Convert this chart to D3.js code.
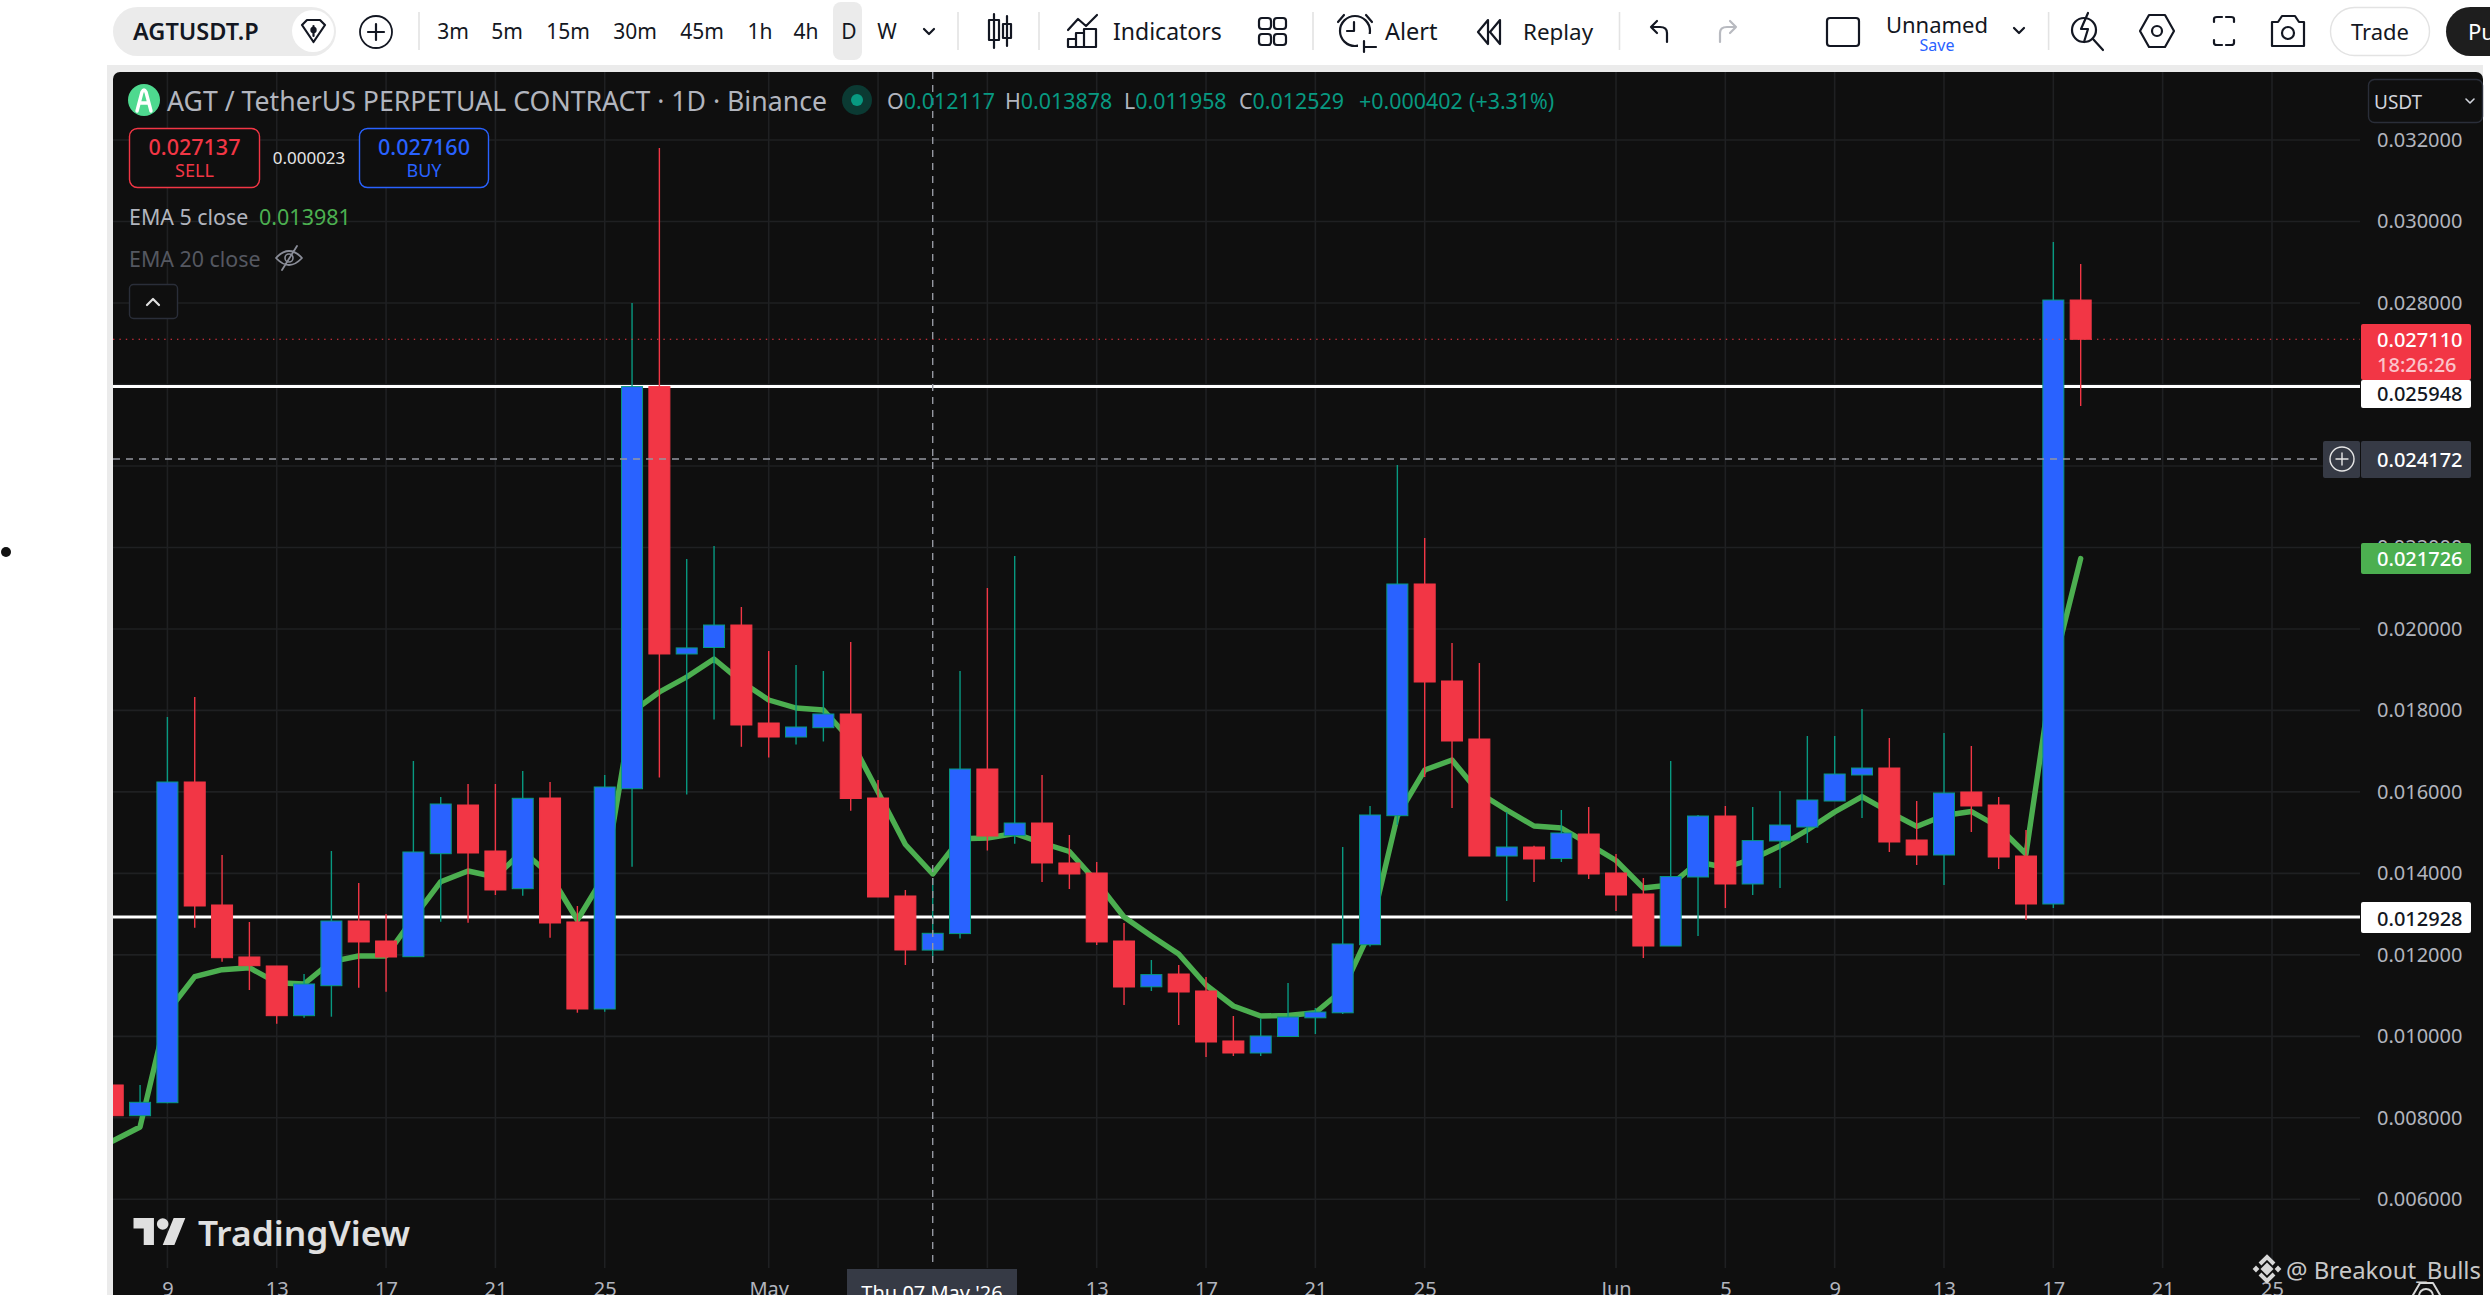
<!DOCTYPE html>
<html>
<head>
  <meta charset="utf-8">
  <script src="https://d3js.org/d3.v7.min.js"></script>
  <style>
  html, body { margin:0; padding:0; background:#fff; overflow:hidden; }
  svg { display:block; font-family:"Noto Sans", sans-serif; }
  .y.axis text, .x.axis text { fill:#b2b5be; font-size:20px; font-family:"Noto Sans", sans-serif; }
  .y.axis path, .x.axis path { display:none; }
  .grid line { stroke:#1f2022; stroke-width:1.6; }
  .icon { fill:none; stroke:#131722; stroke-width:2.2; stroke-linecap:round; stroke-linejoin:round; }
  </style>
</head>
<body>
<script>

  // daily candles, 7 Apr to 18 Jun
  var firstDay = "2026-04-07", lastDay = "2026-06-18";

  var opens = [
    0.008806, 0.008052, 0.008371, 0.016243, 0.013224, 0.011948, 0.011727, 0.010507, 0.011243, 0.012831, 0.012340, 0.011955,
    0.014483, 0.015678, 0.014549, 0.013624, 0.015850, 0.012807, 0.010671, 0.016078, 0.025948, 0.019385, 0.019544, 0.020096,
    0.017691, 0.017347, 0.017576, 0.017912, 0.015850, 0.013445, 0.012117, 0.012522, 0.016562, 0.014927, 0.015236, 0.014255,
    0.014009, 0.012340, 0.011216, 0.011530, 0.011113, 0.009886, 0.009591, 0.009996, 0.010455, 0.010578, 0.012249, 0.015416,
    0.021103, 0.018722, 0.017298, 0.014426, 0.014647, 0.014363, 0.014966, 0.014009, 0.013494, 0.012217, 0.013911, 0.015408,
    0.013739, 0.014795, 0.015138, 0.015776, 0.016415, 0.016586, 0.014819, 0.014451, 0.015997, 0.015678, 0.014426, 0.013248,
    0.028073
  ];
  var highs = [
    0.008806, 0.008806, 0.017838, 0.018329, 0.014451, 0.012807, 0.011727, 0.011530, 0.014549, 0.013764, 0.013003, 0.016758,
    0.015875, 0.016194, 0.016194, 0.016513, 0.016243, 0.013199, 0.016415, 0.028000, 0.031804, 0.021716, 0.022035, 0.020538,
    0.019458, 0.019115, 0.018967, 0.019679, 0.016292, 0.013592, 0.013878, 0.018967, 0.021005, 0.021792, 0.016415, 0.014942,
    0.014279, 0.012782, 0.011874, 0.011751, 0.011457, 0.010499, 0.010436, 0.011309, 0.010696, 0.014647, 0.015654, 0.024024,
    0.022232, 0.019655, 0.019164, 0.015506, 0.014681, 0.015556, 0.015629, 0.014476, 0.013886, 0.016758, 0.015433, 0.015654,
    0.015629, 0.016022, 0.017372, 0.017372, 0.018035, 0.017323, 0.015776, 0.017446, 0.017126, 0.015875, 0.015065, 0.029497,
    0.028957
  ];
  var lows = [
    0.008052, 0.008052, 0.008356, 0.012667, 0.011832, 0.011137, 0.010310, 0.010458, 0.010482, 0.011194, 0.011096, 0.011955,
    0.012814, 0.012789, 0.013469, 0.013452, 0.012421, 0.010580, 0.010605, 0.014164, 0.016353, 0.015933, 0.017774, 0.017107,
    0.016842, 0.017163, 0.017237, 0.015536, 0.013420, 0.011751, 0.011958, 0.012399, 0.014559, 0.014728, 0.013788, 0.013616,
    0.012242, 0.010769, 0.011113, 0.010278, 0.009493, 0.009517, 0.009517, 0.009996, 0.010057, 0.010548, 0.012203, 0.015187,
    0.016366, 0.015605, 0.014426, 0.013322, 0.013788, 0.014279, 0.013862, 0.013077, 0.011923, 0.012217, 0.012463, 0.013150,
    0.013469, 0.013641, 0.014746, 0.015776, 0.015359, 0.014525, 0.014206, 0.013715, 0.015016, 0.014107, 0.012856, 0.013150,
    0.025472
  ];
  var closes = [
    0.008052, 0.008381, 0.016243, 0.013199, 0.011930, 0.011734, 0.010507, 0.011285, 0.012831, 0.012316, 0.011947, 0.014525,
    0.015703, 0.014500, 0.013592, 0.015843, 0.012782, 0.010671, 0.016120, 0.025948, 0.019385, 0.019534, 0.020096, 0.017642,
    0.017347, 0.017593, 0.017912, 0.015838, 0.013420, 0.012119, 0.012529, 0.016562, 0.014917, 0.015236, 0.014255, 0.013985,
    0.012316, 0.011211, 0.011515, 0.011088, 0.009861, 0.009591, 0.010008, 0.010475, 0.010597, 0.012267, 0.015433, 0.021103,
    0.018697, 0.017249, 0.014426, 0.014647, 0.014353, 0.014991, 0.013985, 0.013469, 0.012217, 0.013921, 0.015408, 0.013739,
    0.014804, 0.015187, 0.015801, 0.016439, 0.016586, 0.014770, 0.014451, 0.015973, 0.015654, 0.014402, 0.013248, 0.028073,
    0.027110
  ];
  var ema5 = [
    0.007431, 0.007775, 0.010597, 0.011464, 0.011635, 0.011685, 0.011316, 0.011285, 0.011832, 0.011972, 0.011972, 0.012905,
    0.013796, 0.014058, 0.013911, 0.014549, 0.013960, 0.012856, 0.013960, 0.017961, 0.018452, 0.018820, 0.019262, 0.018705,
    0.018255, 0.018059, 0.018010, 0.017274, 0.015997, 0.014709, 0.013985, 0.014851, 0.014868, 0.014979, 0.014746, 0.014537,
    0.013788, 0.012929, 0.012463, 0.012021, 0.011260, 0.010745, 0.010499, 0.010512, 0.010578, 0.011137, 0.012569, 0.015408,
    0.016537, 0.016783, 0.015973, 0.015556, 0.015163, 0.015114, 0.014721, 0.014316, 0.013641, 0.013715, 0.014279, 0.014144,
    0.014353, 0.014672, 0.015065, 0.015506, 0.015884, 0.015506, 0.015153, 0.015421, 0.015519, 0.015138, 0.014476, 0.019041,
    0.021726
  ];

  var yTicks = [0.006, 0.008, 0.010, 0.012, 0.014, 0.016, 0.018, 0.020, 0.022, 0.024, 0.026, 0.028, 0.030, 0.032];
  var xTickDays = ["2026-04-09","2026-04-13","2026-04-17","2026-04-21","2026-04-25","2026-05-01","2026-05-05","2026-05-09",
    "2026-05-13","2026-05-17","2026-05-21","2026-05-25","2026-06-01","2026-06-05","2026-06-09","2026-06-13","2026-06-17",
    "2026-06-21","2026-06-25"];
  var xTickLabels = ["9","13","17","21","25","May","5","9","13","17","21","25","Jun","5","9","13","17","21","25"];

  var supportLevels = [0.025948, 0.012928];
  var lastPrice = 0.027110, crossPrice = 0.024172, crossDay = "2026-05-07";

  var timeframes = ["3m","5m","15m","30m","45m","1h","4h","D","W"];
  var timeframeX = [453, 507, 568, 635, 702, 760, 806, 849, 887];

  var panel = {left:113, top:72, right:2360, axisTop:1268};

  var svg = d3.select("body").append("svg")
    .attr("width", 2490)
    .attr("height", 1295);

  var day = d3.utcParse("%Y-%m-%d");
  var days = d3.utcDay.range(day(firstDay), d3.utcDay.offset(day(lastDay), 1));

  var x = d3.scaleUtc().domain([day("2026-04-09"), day("2026-06-25")]).range([167.4, 2272]);
  var y = d3.scaleLinear().domain([0.006, 0.028]).range([1199.3, 303]);
  var bodyWidth = 21;

  function label(px, py, str, size, color, anchor, weight) {
    return svg.append("text")
      .attr("x", px).attr("y", py)
      .attr("dominant-baseline", "central")
      .attr("text-anchor", anchor || "start")
      .attr("font-size", size)
      .attr("font-weight", weight || 400)
      .attr("fill", color)
      .text(str);
  }
  function icon(d, color) {
    return svg.append("path").attr("class", "icon").attr("d", d).style("stroke", color || null);
  }
  function vrule(px, y0, y1) {
    svg.append("line").attr("x1", px).attr("x2", px).attr("y1", y0).attr("y2", y1)
      .attr("stroke", "#e3e3e3").attr("stroke-width", 1.6);
  }

  // page + panel
  svg.append("rect").attr("x", 107).attr("y", 65).attr("width", 2383).attr("height", 1230).attr("fill", "#ebebeb");
  svg.append("rect").attr("x", 2483).attr("y", 65).attr("width", 7).attr("height", 1230).attr("fill", "#fff");
  svg.append("rect").attr("x", panel.left).attr("y", panel.top).attr("width", 2370).attr("height", 1240)
    .attr("rx", 7).attr("fill", "#0f0f0f");
  svg.append("circle").attr("cx", 6).attr("cy", 552).attr("r", 5).attr("fill", "#111");

  svg.append("clipPath").attr("id", "plot").append("rect")
    .attr("x", panel.left).attr("y", panel.top)
    .attr("width", panel.right - panel.left).attr("height", panel.axisTop - panel.top);

  // grid
  var grid = svg.append("g").attr("class", "grid");
  grid.selectAll(".h").data(yTicks).enter().append("line")
    .attr("x1", panel.left).attr("x2", panel.right)
    .attr("y1", d => y(d)).attr("y2", d => y(d));
  grid.selectAll(".v").data(xTickDays).enter().append("line")
    .attr("x1", d => x(day(d))).attr("x2", d => x(day(d)))
    .attr("y1", panel.top).attr("y2", panel.axisTop);

  // axes
  svg.append("g").attr("class", "y axis")
    .attr("transform", "translate(2364,0)")
    .call(d3.axisRight(y).tickValues(yTicks).tickFormat(d3.format(".6f")).tickSize(0).tickPadding(13));
  svg.append("g").attr("class", "x axis")
    .attr("transform", "translate(0,1282)")
    .call(d3.axisBottom(x).tickValues(xTickDays.map(day)).tickFormat((d, i) => xTickLabels[i]).tickSize(0).tickPadding(0));

  var plot = svg.append("g").attr("clip-path", "url(#plot)");

  // the two white levels
  plot.selectAll(".level").data(supportLevels).enter().append("line")
    .attr("x1", panel.left).attr("x2", panel.right)
    .attr("y1", d => y(d)).attr("y2", d => y(d))
    .attr("stroke", "#fff").attr("stroke-width", 3);

  // EMA under the candles
  var emaLine = d3.line().x((d, i) => x(days[i])).y(d => y(d));
  plot.append("path").datum(ema5)
    .attr("fill", "none").attr("stroke", "#4caf50").attr("stroke-width", 5.4)
    .attr("stroke-linejoin", "round").attr("stroke-linecap", "round")
    .attr("d", emaLine);

  var isUp = i => closes[i] >= opens[i];

  plot.selectAll(".wick").data(days).enter().append("line")
    .attr("x1", d => x(d)).attr("x2", d => x(d))
    .attr("y1", (d, i) => y(highs[i])).attr("y2", (d, i) => y(lows[i]))
    .attr("stroke", (d, i) => isUp(i) ? "#089981" : "#f23645").attr("stroke-width", 1.4);

  plot.selectAll(".body").data(days).enter().append("rect")
    .attr("x", d => x(d) - bodyWidth / 2)
    .attr("width", bodyWidth)
    .attr("y", (d, i) => y(Math.max(opens[i], closes[i])))
    .attr("height", (d, i) => Math.abs(y(opens[i]) - y(closes[i])))
    .attr("fill", (d, i) => isUp(i) ? "#2962ff" : "#f23645")
    .attr("stroke", (d, i) => isUp(i) ? "#089981" : "#f23645").attr("stroke-width", 1);

  // last price + crosshair
  plot.append("line").attr("x1", panel.left).attr("x2", panel.right)
    .attr("y1", y(lastPrice)).attr("y2", y(lastPrice))
    .attr("stroke", "#f23645").attr("stroke-width", 1.2).attr("stroke-dasharray", "1.4 5");
  plot.append("line").attr("x1", panel.left).attr("x2", 2323)
    .attr("y1", y(crossPrice)).attr("y2", y(crossPrice))
    .attr("stroke", "#9598a1").attr("stroke-width", 1.4).attr("stroke-dasharray", "7 6");
  plot.append("line").attr("x1", x(day(crossDay))).attr("x2", x(day(crossDay)))
    .attr("y1", panel.top).attr("y2", panel.axisTop)
    .attr("stroke", "#9598a1").attr("stroke-width", 1.4).attr("stroke-dasharray", "7 6");

  // price tags
  function tag(y0, y1, fill) {
    svg.append("rect").attr("x", 2361).attr("y", y0).attr("width", 110).attr("height", y1 - y0).attr("rx", 2).attr("fill", fill);
  }
  tag(324, 380, "#f23645");
  label(2377, 339, "0.027110", 20, "#fff", "start", 500);
  label(2377, 364.5, "18:26:26", 20, "#fbc4ca", "start", 500);
  tag(380, 408, "#fff");
  label(2377, 393.5, "0.025948", 20, "#131722", "start", 500);
  tag(441, 478, "#363a45");
  svg.append("rect").attr("x", 2323).attr("y", 441).attr("width", 37).attr("height", 37).attr("rx", 2).attr("fill", "#363a45");
  svg.append("line").attr("x1", 2360.5).attr("x2", 2360.5).attr("y1", 441).attr("y2", 478).attr("stroke", "#0f0f0f");
  svg.append("ellipse").attr("cx", 2342).attr("cy", 459).attr("rx", 12).attr("ry", 12).attr("fill", "none").attr("stroke", "#e6e6e6").attr("stroke-width", 1.4);
  icon("M2336 459H2348M2342 453V465", "#e6e6e6").style("stroke-width", 1.4);
  label(2377, 459, "0.024172", 20, "#fff", "start", 500);
  tag(543, 574, "#4caf50");
  label(2377, 558, "0.021726", 20, "#fff", "start", 500);
  tag(902, 933, "#fff");
  label(2377, 918, "0.012928", 20, "#131722", "start", 500);

  // date tag on the crosshair, cut by the bottom of the shot
  svg.append("rect").attr("x", 847).attr("y", 1269).attr("width", 170).attr("height", 30).attr("fill", "#363a45");
  label(932, 1292, "Thu 07 May '26", 20, "#fff", "middle");

  // legend
  svg.append("circle").attr("cx", 144).attr("cy", 100).attr("r", 16).attr("fill", "#4ed98f");
  icon("M137 111L142 92Q144 88 146 92L151 111M140 103H148", "#fff").style("stroke-width", 3.4);
  label(167, 100, "AGT / TetherUS PERPETUAL CONTRACT · 1D · Binance", 27, "#b2b5be")
    .attr("textLength", 660).attr("lengthAdjust", "spacingAndGlyphs");
  svg.append("circle").attr("cx", 857).attr("cy", 100).attr("r", 15).attr("fill", "#0b3a33");
  svg.append("circle").attr("cx", 857).attr("cy", 100).attr("r", 6).attr("fill", "#089981");

  var ohlc = [["O","0.012117",887],["H","0.013878",1005],["L","0.011958",1124],["C","0.012529",1239]];
  ohlc.forEach(function(o) {
    var t = label(o[2], 100, "", 21.4, "#b2b5be");
    t.append("tspan").text(o[0]);
    t.append("tspan").attr("fill", "#089981").text(o[1]);
  });
  label(1359, 100, "+0.000402", 21.4, "#089981");
  label(1469, 100, "(+3.31%)", 21.4, "#089981");

  svg.append("rect").attr("x", 129.5).attr("y", 128.5).attr("width", 130).attr("height", 59).attr("rx", 8)
    .attr("fill", "#0f0f0f").attr("stroke", "#f23645").attr("stroke-width", 1.4);
  label(194.5, 146, "0.027137", 21.5, "#f23645", "middle", 500);
  label(194.5, 170, "SELL", 18, "#f23645", "middle");
  label(309, 157, "0.000023", 17, "#e6e6e6", "middle");
  svg.append("rect").attr("x", 359.5).attr("y", 128.5).attr("width", 129).attr("height", 59).attr("rx", 8)
    .attr("fill", "#0f0f0f").attr("stroke", "#2962ff").attr("stroke-width", 1.4);
  label(424, 146, "0.027160", 21.5, "#2962ff", "middle", 500);
  label(424, 170, "BUY", 18, "#2962ff", "middle");

  label(129, 216, "EMA 5 close", 21.4, "#b2b5be");
  label(259, 216, "0.013981", 21.5, "#4caf50");
  label(129, 258, "EMA 20 close", 21.4, "#555861");
  icon("M276 258Q289 244 302 258Q289 272 276 258ZM282 270L297 246", "#8a8d98").style("stroke-width", 1.8);
  svg.append("circle").attr("cx", 289).attr("cy", 258).attr("r", 4).attr("fill", "none").attr("stroke", "#8a8d98").attr("stroke-width", 1.6);
  svg.append("rect").attr("x", 129.5).attr("y", 284.5).attr("width", 48).attr("height", 34).attr("rx", 4)
    .attr("fill", "#0f0f0f").attr("stroke", "#2a2e39").attr("stroke-width", 1.4);
  icon("M147 305L153 299L159 305", "#e0e0e0");

  svg.append("rect").attr("x", 2368.5).attr("y", 79.5).attr("width", 114).attr("height", 43).attr("rx", 6)
    .attr("fill", "#0f0f0f").attr("stroke", "#2a2e39").attr("stroke-width", 1.4);
  label(2374, 102, "USDT", 19, "#d1d4dc");
  icon("M2466 99L2470 103L2474 99", "#d1d4dc").style("stroke-width", 1.6);

  // watermarks
  svg.append("path").attr("transform", "translate(133.5,1212) scale(1.46,1.5)").attr("fill", "#e0e0e0")
    .attr("d", "M14 22H7V11H0V4h14v18zM28 22h-8l7.5-18h8L28 22z");
  svg.append("circle").attr("cx", 162.7).attr("cy", 1224).attr("r", 5.8).attr("fill", "#e0e0e0");
  label(198, 1232, "TradingView", 35, "#e0e0e0", "start", 600)
    .attr("textLength", 212).attr("lengthAdjust", "spacingAndGlyphs");

  var bnb = svg.append("g").attr("transform", "translate(2267,1269)").attr("fill", "#d8d8d8");
  [[0,0,4.6],[-11,0,2.4],[11,0,2.4]].forEach(function(s) {
    bnb.append("rect").attr("x", s[0] - s[2]).attr("y", s[1] - s[2]).attr("width", 2 * s[2]).attr("height", 2 * s[2])
      .attr("transform", "rotate(45 " + s[0] + " " + s[1] + ")");
  });
  bnb.append("path").attr("d", "M-7 -5L0 -12L7 -5M-7 5L0 12L7 5").attr("fill", "none").attr("stroke", "#d8d8d8").attr("stroke-width", 4);
  label(2286, 1269, "@ Breakout_Bulls", 24, "#c8c8c8")
    .attr("textLength", 195).attr("lengthAdjust", "spacingAndGlyphs");
  icon("M2413 1295L2420 1283H2433L2440 1295", "#d8d8d8").style("stroke-width", 2);
  svg.append("circle").attr("cx", 2426).attr("cy", 1296).attr("r", 7).attr("fill", "none").attr("stroke", "#d8d8d8").attr("stroke-width", 2);

  // top toolbar
  svg.append("rect").attr("x", 113).attr("y", 7).attr("width", 223).attr("height", 49).attr("rx", 24.5).attr("fill", "#ebebeb");
  svg.append("circle").attr("cx", 313).attr("cy", 31).attr("r", 21).attr("fill", "#fff");
  label(133, 31, "AGTUSDT.P", 23.5, "#131722", "start", 600);
  icon("M302 25L307 20H320L325 25L313.5 42ZM313.5 26V36");
  svg.append("circle").attr("cx", 313.5).attr("cy", 30).attr("r", 3.2).attr("fill", "#131722");
  svg.append("circle").attr("cx", 376).attr("cy", 32).attr("r", 16).attr("fill", "none").attr("stroke", "#131722").attr("stroke-width", 1.8);
  icon("M368 32H384M376 24V40");
  vrule(419, 12, 50);

  svg.append("rect").attr("x", 833).attr("y", 2).attr("width", 29).attr("height", 58).attr("rx", 8).attr("fill", "#ebebeb");
  timeframes.forEach(function(t, i) {
    label(timeframeX[i], 31, t, 21, "#131722", "middle");
  });
  icon("M924 29L929 34L934 29");
  vrule(958, 12, 50);
  icon("M994 14V48M994 20H989V40H999V20ZM1007 16V46M1007 24H1003V38H1011V24Z");
  vrule(1039, 12, 50);
  icon("M1068 30L1078 19L1086 26L1097 15M1068 47V39H1076V47M1076 47V33H1084V47M1084 47V29H1096V47M1068 47H1096");
  label(1113, 31, "Indicators", 23, "#131722");
  [[1259,18],[1274,18],[1259,34],[1274,34]].forEach(function(c) {
    svg.append("rect").attr("x", c[0]).attr("y", c[1]).attr("width", 12).attr("height", 11).attr("rx", 3)
      .attr("fill", "none").attr("stroke", "#131722").attr("stroke-width", 2.2);
  });
  vrule(1313, 12, 50);
  svg.append("circle").attr("cx", 1355).attr("cy", 31).attr("r", 15).attr("fill", "none").attr("stroke", "#131722").attr("stroke-width", 2.2);
  svg.append("rect").attr("x", 1358).attr("y", 34).attr("width", 16).attr("height", 16).attr("fill", "#fff");
  icon("M1354 22V31H1347M1338 22L1344 15M1366 15L1372 22M1365 47H1376M1364 41V52");
  label(1385, 31, "Alert", 23.5, "#131722");
  icon("M1488 20L1478 32L1488 44ZM1500 20L1490 32L1500 44Z");
  label(1523, 31, "Replay", 22.4, "#131722");
  vrule(1619.5, 12, 50);
  icon("M1667 42V33Q1667 27 1660 27H1651M1657 21L1651 27L1657 33");
  icon("M1720 42V33Q1720 27 1727 27H1736M1730 21L1736 27L1730 33", "#b8bac0");
  svg.append("rect").attr("x", 1827).attr("y", 18).attr("width", 32).attr("height", 28).attr("rx", 3)
    .attr("fill", "none").attr("stroke", "#131722").attr("stroke-width", 2.2);
  label(1937, 24, "Unnamed", 22, "#131722", "middle");
  label(1937, 45, "Save", 16, "#2962ff", "middle");
  icon("M2014 28L2019 33L2024 28");
  vrule(2048.6, 12, 50);
  svg.append("circle").attr("cx", 2084).attr("cy", 30).attr("r", 12).attr("fill", "none").attr("stroke", "#131722").attr("stroke-width", 2.2);
  icon("M2093 39L2103 50M2088 13L2081 29H2088L2084 42");
  icon("M2140 31L2149 15H2165L2174 31L2165 47H2149Z");
  svg.append("circle").attr("cx", 2157).attr("cy", 31).attr("r", 5).attr("fill", "none").attr("stroke", "#131722").attr("stroke-width", 2.2);
  icon("M2214 22V19Q2214 17 2217 17H2222M2226 17H2231Q2234 17 2234 19V22M2234 40V43Q2234 45 2231 45H2226M2222 45H2217Q2214 45 2214 43V40");
  icon("M2272 22H2278L2282 16H2295L2299 22H2304V46H2272Z");
  svg.append("circle").attr("cx", 2288).attr("cy", 33).attr("r", 6).attr("fill", "none").attr("stroke", "#131722").attr("stroke-width", 2.2);
  svg.append("rect").attr("x", 2330.5).attr("y", 7.5).attr("width", 99).attr("height", 48).attr("rx", 24)
    .attr("fill", "#fff").attr("stroke", "#e3e3e3").attr("stroke-width", 1.4);
  label(2380, 31, "Trade", 22, "#131722", "middle");
  svg.append("rect").attr("x", 2446).attr("y", 7).attr("width", 80).attr("height", 49).attr("rx", 24.5).attr("fill", "#1e1e1e");
  label(2468, 31, "Pu", 22, "#fff");

</script>
</body>
</html>
